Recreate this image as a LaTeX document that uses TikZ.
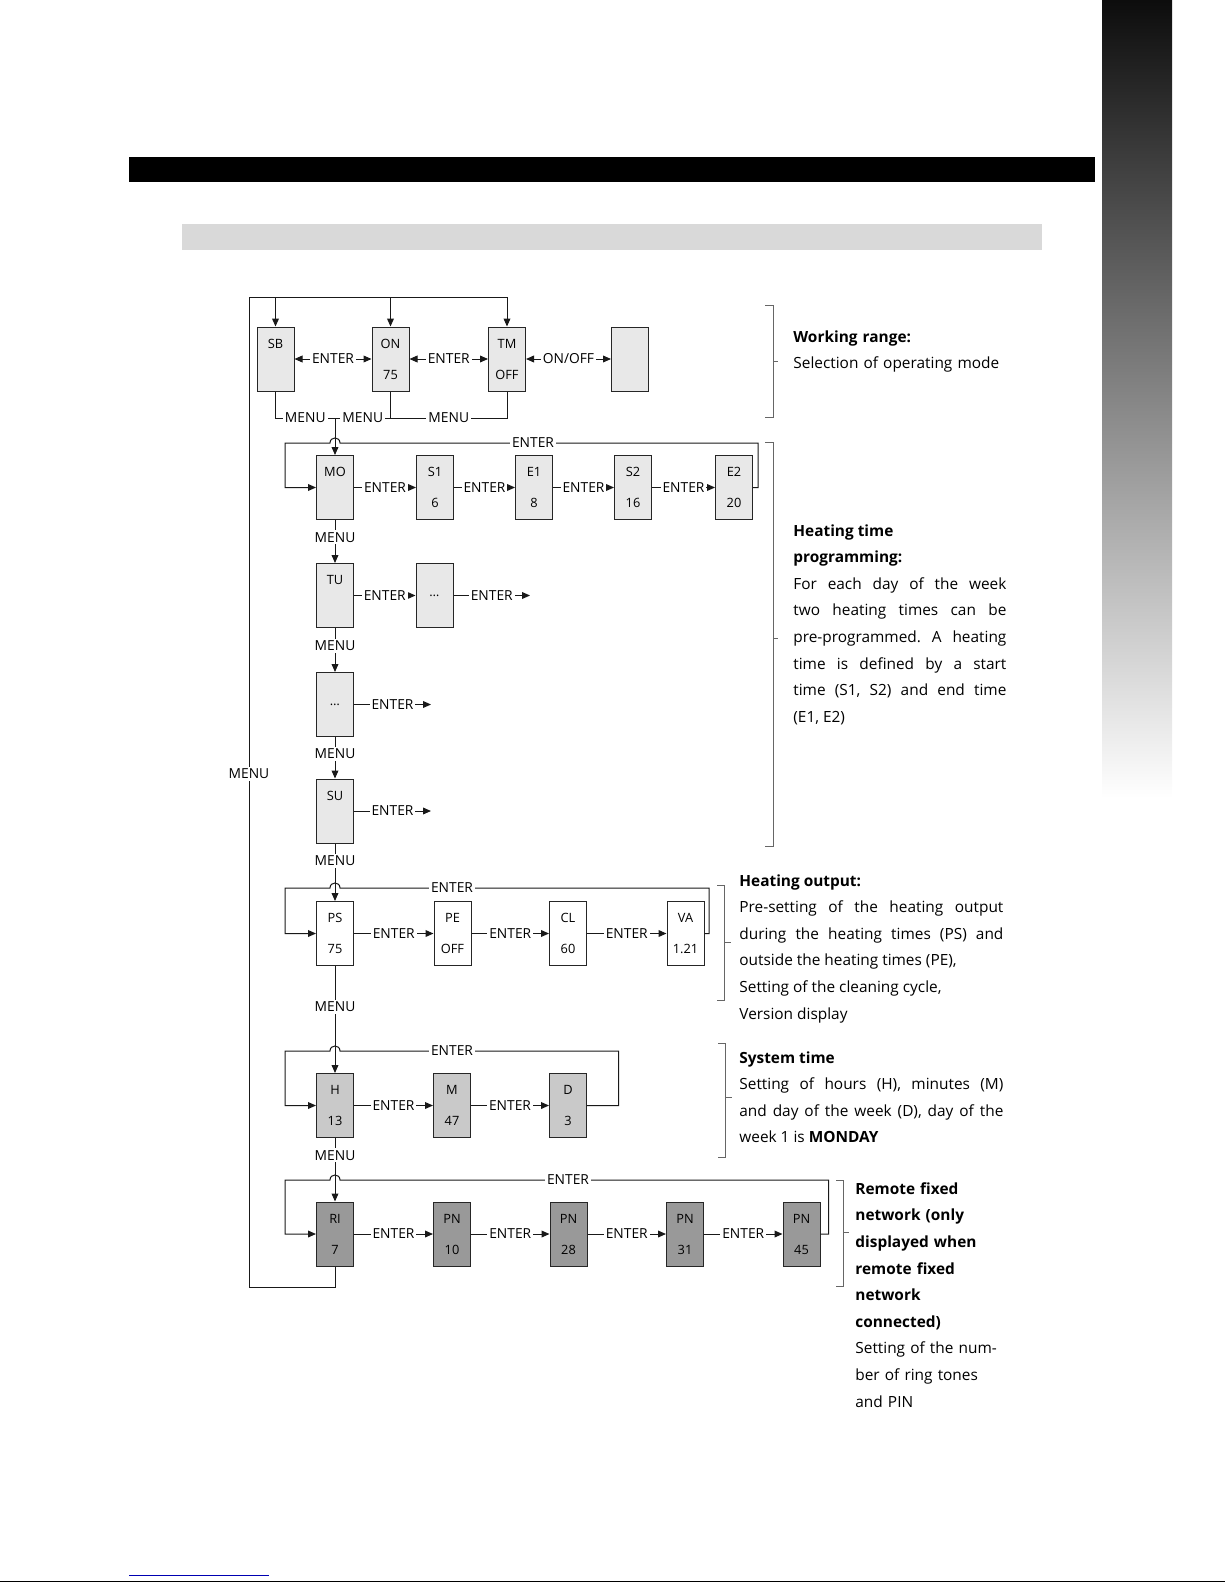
\documentclass[tikz,border=0pt]{standalone}
\usepackage{fontspec}
\setmainfont{Open Sans}
\usetikzlibrary{arrows.meta}
\frenchspacing

\begin{document}
\begin{tikzpicture}[x=0.5bp, y=-0.5bp,
  every node/.style={font=\fontsize{6.9bp}{8bp}\selectfont},
  conn/.style={line width=0.5bp, draw=black!90},
  tip/.style={-{Triangle[length=4bp,width=3.4bp]}},
  twoway/.style={{Triangle[length=4bp,width=3.4bp]}-{Triangle[length=4bp,width=3.4bp]}},
  kbox/.style={draw=black!85, line width=0.5bp, minimum width=18.5bp, minimum height=32bp,
    inner sep=0pt, align=center, font=\fontsize{6.4bp}{15.5bp}\selectfont},
  lbox/.style={kbox, fill=black!9},
  wbox/.style={kbox, fill=white},
  gbox/.style={kbox, fill=black!21},
  dbox/.style={kbox, fill=black!40},
  lbl/.style={fill=white, inner sep=1bp},
  brk/.style={draw=black!60, line width=0.5bp},
  txt/.style={anchor=north west, inner sep=0pt, text width=#1, align=justify,
    font=\fontsize{7.7bp}{13.3bp}\selectfont}]
  \useasboundingbox (0,0) rectangle (1225,1585);

  % page furniture
  \shade[top color=black!95, bottom color=white] (1102,0) rectangle (1172,798);
  \fill[black] (129,157) rectangle (1095,182);
  \fill[black!15] (182,224) rectangle (1042,250);
  \draw[blue!70!black, line width=0.5bp] (129,1575) -- (269,1575);
  \draw[line width=0.5bp] (0,1581) -- (1225,1581);

  % working range
  \node[lbox] (sb) at (275.5,359) {SB\\\mbox{}};
  \node[lbox] (on) at (390.5,359) {ON\\75};
  \node[lbox] (tm) at (507,359) {TM\\OFF};
  \node[lbox] (emp) at (630,359) {};
  \draw[conn,twoway] (sb) -- node[lbl] {ENTER} (on);
  \draw[conn,twoway] (on) -- node[lbl] {ENTER} (tm);
  \draw[conn,twoway] (tm) -- node[lbl] {ON/OFF} (emp);
  \coordinate (jn) at (335,418);
  \draw[conn] (sb.south) |- node[lbl,pos=0.75] {MENU} (jn);
  \draw[conn] (on.south) |- node[lbl,pos=0.75] {MENU} (jn);
  \draw[conn] (tm.south) |- node[lbl,pos=0.75] {MENU} (on.south |- jn);

  % heating times
  \node[lbox] (mo) at (335,487.5) {MO\\\mbox{}};
  \node[lbox] (s1) at (435,487.5) {S1\\6};
  \node[lbox] (e1) at (534,487.5) {E1\\8};
  \node[lbox] (s2) at (633,487.5) {S2\\16};
  \node[lbox] (e2) at (734,487.5) {E2\\20};
  \draw[conn,tip] (jn) -- (mo.north);
  \draw[conn,tip] (e2.east) -- ++(5,0) |- (340,443) .. controls (340,436.3) and (330,436.3) .. (330,443) -- (285,443) |- (mo.west);
  \node[lbl] (fbmo) at (533,443) {ENTER};
  \foreach \a/\b in {mo/s1,s1/e1,e1/s2,s2/e2}
    \draw[conn,tip] (\a) -- node[lbl] {ENTER} (\b);

  \node[lbox] (tu) at (335,595.5) {TU\\\mbox{}};
  \node[lbox] (tud) at (434.5,595.5) {\ldots};
  \coordinate (tuend) at (530,595.5);
  \draw[conn,tip] (mo) -- node[lbl,pos=0.4] {MENU} (tu);
  \draw[conn,tip] (tu) -- node[lbl] {ENTER} (tud);
  \draw[conn,tip] (tud) -- node[lbl] {ENTER} (tuend);

  \node[lbox] (dd) at (335,704.5) {\ldots};
  \coordinate (ddend) at (431,704.5);
  \draw[conn,tip] (tu) -- node[lbl,pos=0.4] {MENU} (dd);
  \draw[conn,tip] (dd) -- node[lbl] {ENTER} (ddend);

  \node[lbox] (su) at (335,811) {SU\\\mbox{}};
  \coordinate (suend) at (431,811);
  \draw[conn,tip] (dd) -- node[lbl,pos=0.4] {MENU} (su);
  \draw[conn,tip] (su) -- node[lbl] {ENTER} (suend);

  % heating output
  \node[wbox] (ps) at (335,933.5) {PS\\75};
  \node[wbox] (pe) at (452.5,933.5) {PE\\OFF};
  \node[wbox] (cl) at (568,933.5) {CL\\60};
  \node[wbox] (va) at (685.5,933.5) {VA\\1.21};
  \draw[conn,tip] (su) -- node[lbl,pos=0.3] {MENU} (ps);
  \draw[conn,tip] (va.east) -- ++(4.5,0) |- (340,888) .. controls (340,881.3) and (330,881.3) .. (330,888) -- (285,888) |- (ps.west);
  \node[lbl] (fbps) at (452,888) {ENTER};
  \foreach \a/\b in {ps/pe,pe/cl,cl/va}
    \draw[conn,tip] (\a) -- node[lbl] {ENTER} (\b);

  % system time
  \node[gbox] (h) at (335,1105.5) {H\\13};
  \node[gbox] (m) at (452,1105.5) {M\\47};
  \node[gbox] (d) at (568,1105.5) {D\\3};
  \draw[conn,tip] (ps) -- node[lbl,pos=0.38] {MENU} (h);
  \draw[conn,tip] (d.east) -- ++(31.5,0) |- (340,1051) .. controls (340,1044.3) and (330,1044.3) .. (330,1051) -- (285,1051) |- (h.west);
  \node[lbl] (fbh) at (452,1051) {ENTER};
  \foreach \a/\b in {h/m,m/d}
    \draw[conn,tip] (\a) -- node[lbl] {ENTER} (\b);

  % remote fixed network
  \node[dbox] (ri) at (335,1234) {RI\\7};
  \node[dbox] (pn1) at (452,1234) {PN\\10};
  \node[dbox] (pn2) at (568.5,1234) {PN\\28};
  \node[dbox] (pn3) at (685,1234) {PN\\31};
  \node[dbox] (pn4) at (801.5,1234) {PN\\45};
  \draw[conn,tip] (h) -- node[lbl,pos=0.27] {MENU} (ri);
  \draw[conn,tip] (pn4.east) -- ++(8,0) |- (340,1180) .. controls (340,1173.3) and (330,1173.3) .. (330,1180) -- (285,1180) |- (ri.west);
  \node[lbl] (fbri) at (568,1180) {ENTER};
  \foreach \a/\b in {ri/pn1,pn1/pn2,pn2/pn3,pn3/pn4}
    \draw[conn,tip] (\a) -- node[lbl] {ENTER} (\b);

  % back to the working range
  \coordinate (lbot) at (249,1287);
  \coordinate (ltop) at (249,297);
  \draw[conn,tip] (ri.south) |- (lbot) -- (ltop) -| (tm.north);
  \draw[conn,tip] (ltop -| sb.north) -- (sb.north);
  \draw[conn,tip] (ltop -| on.north) -- (on.north);
  \node[lbl] (menuback) at (249,774) {MENU};

  % brackets
  \draw[brk] (765,305) -- (773,305) -- (773,417) -- (765,417);
  \draw[brk] (773,361) -- (778,361);
  \draw[brk] (765,442) -- (773,442) -- (773,846) -- (765,846);
  \draw[brk] (773,638) -- (778,638);
  \draw[brk] (717,885) -- (724,885) -- (724,1000) -- (717,1000);
  \draw[brk] (724,942) -- (731,942);
  \draw[brk] (718,1043) -- (725,1043) -- (725,1157) -- (718,1157);
  \draw[brk] (725,1097) -- (732,1097);
  \draw[brk] (836,1180) -- (843,1180) -- (843,1286) -- (836,1286);
  \draw[brk] (843,1232) -- (849,1232);

  % descriptions
  \node[txt=120bp, align=left] (worktxt) at (793,330) {\textbf{Working range:}\\Selection of operating mode};
  \node[txt=106.5bp] (heattxt) at (793,524) {\textbf{Heating time}\newline\textbf{programming:}\newline For each day of the week\linebreak two heating times can be\linebreak pre-programmed. A heating\linebreak time is defined by a start\linebreak time (S1, S2) and end time\linebreak (E1, E2)};
  \node[txt=132bp] (outtxt) at (739,874) {\textbf{Heating output:}\newline Pre-setting of the heating output\linebreak during the heating times (PS) and\linebreak outside the heating times (PE),\newline Setting of the cleaning cycle,\newline Version display};
  \node[txt=132bp] (systxt) at (739,1051) {\textbf{System time}\newline Setting of hours (H), minutes (M)\linebreak and day of the week (D), day of the\linebreak week 1 is \textbf{MONDAY}};
  \node[txt=80bp, align=left] (remtxt) at (855,1182) {\textbf{Remote fixed}\\\textbf{network (only}\\\textbf{displayed when}\\\textbf{remote fixed}\\\textbf{network}\\\textbf{connected)}\\Setting of the num-\\ber of ring tones\\and PIN};
\end{tikzpicture}
\end{document}
